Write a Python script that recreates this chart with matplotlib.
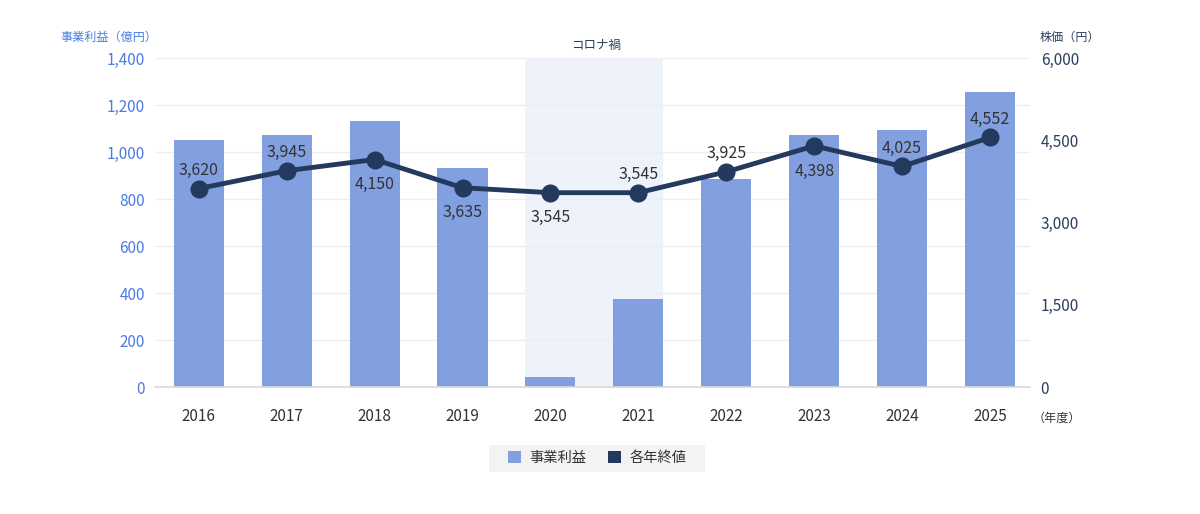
import matplotlib
matplotlib.use("Agg")
import matplotlib.pyplot as plt
from matplotlib.patches import Patch, Rectangle

plt.rcParams['font.family'] = ['Noto Sans CJK JP', 'DejaVu Sans']

years = ['2016', '2017', '2018', '2019', '2020', '2021', '2022', '2023', '2024', '2025']
profit = [1051, 1072, 1132, 932, 43, 374, 885, 1072, 1094, 1255]
price = [3620, 3945, 4150, 3635, 3545, 3545, 3925, 4398, 4025, 4552]
label_above = [True, True, False, False, False, True, True, False, True, True]
left_ticks = [0, 200, 400, 600, 800, 1000, 1200, 1400]
right_ticks = [0, 1500, 3000, 4500, 6000]

BAR = '#82a0e0'
LINE = '#233a5e'
BLUE_TXT = '#4a7de0'
NAVY_TXT = '#2a3f5f'

fig = plt.figure(figsize=(12, 5.14), dpi=100)
ax = fig.add_axes([0.129, 0.247, 0.729, 0.640])
x = list(range(len(years)))
bw = 0.57

# corona shade
ax.axvspan(4 - bw / 2, 5 + bw / 2, color='#edf2fb', zorder=0, lw=0)

ax.bar(x, profit, width=bw, color=BAR, zorder=2)
ax.set_ylim(0, 1400)
ax.set_xlim(-0.5, 9.45)
ax.set_yticks(left_ticks)
ax.set_yticklabels([f'{v:,}' for v in left_ticks])
ax.grid(axis='y', color='#eeeeee', lw=1, zorder=1)
ax.set_axisbelow(True)
for s in ['top', 'right', 'left']:
    ax.spines[s].set_visible(False)
ax.spines['bottom'].set_color('#d9d9d9')
ax.spines['bottom'].set_linewidth(1.2)
ax.tick_params(axis='y', length=0, pad=7, colors=BLUE_TXT, labelsize=11)
ax.tick_params(axis='x', length=0, pad=15, colors='#333333', labelsize=11)
ax.set_xticks(x)
ax.set_xticklabels(years)

ax2 = ax.twinx()
ax2.set_ylim(0, 6000)
ax2.set_yticks(right_ticks)
ax2.set_yticklabels([f'{v:,}' for v in right_ticks])
for s in ax2.spines.values():
    s.set_visible(False)
ax2.tick_params(axis='y', length=0, pad=8, colors=NAVY_TXT, labelsize=11)
ax2.plot(x, price, color=LINE, lw=3.5, marker='o', markersize=12, zorder=5)
for xi, v, up in zip(x, price, label_above):
    ax2.annotate(f'{v:,}', (xi, v), xytext=(0, 7 if up else -12), textcoords='offset points',
                 ha='center', va='bottom' if up else 'top', fontsize=11.5, color='#333333')

fig.text(157 / 1200, 1 - 37 / 514, '事業利益（億円）', ha='right', va='center', fontsize=8.7, color=BLUE_TXT)
fig.text(1040 / 1200, 1 - 37 / 514, '株価（円）', ha='left', va='center', fontsize=8.7, color=NAVY_TXT)
fig.text(596 / 1200, 1 - 45 / 514, 'コロナ禍', ha='center', va='center', fontsize=9, color=NAVY_TXT)
fig.text(1033 / 1200, 1 - 418 / 514, '（年度）', ha='left', va='center', fontsize=8.7, color='#333333')

# legend background box
fig.patches.append(Rectangle((489 / 1200, 1 - 472 / 514), 216 / 1200, 27 / 514,
                             transform=fig.transFigure, facecolor='#f3f3f3', edgecolor='none', zorder=0))
handles = [Patch(facecolor=BAR, edgecolor='none', label='事業利益'),
           Patch(facecolor=LINE, edgecolor='none', label='各年終値')]
leg = fig.legend(handles=handles, loc='center', bbox_to_anchor=(597 / 1200, 1 - 458 / 514), ncol=2,
                 frameon=False, fontsize=10.3, handlelength=0.95, handleheight=0.95, columnspacing=1.5,
                 handletextpad=0.55)
for t in leg.get_texts():
    t.set_color('#333333')

fig.savefig('out.png', dpi=100)
